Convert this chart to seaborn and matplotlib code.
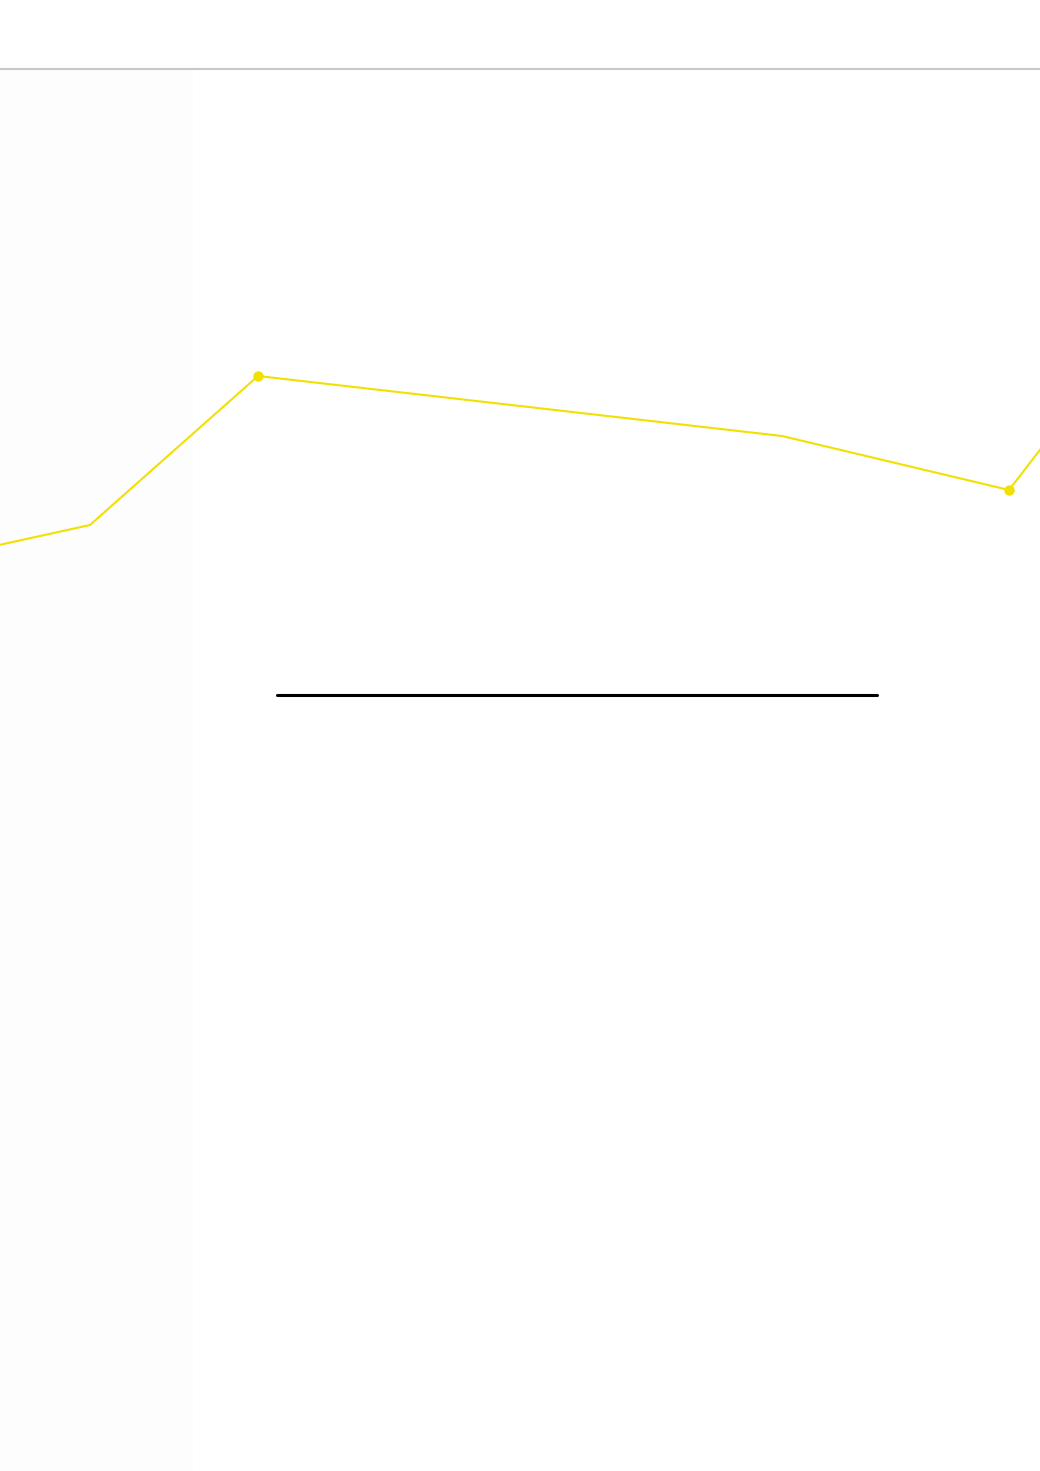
import pandas as pd
import matplotlib.pyplot as plt
import seaborn as sns
from matplotlib.lines import Line2D

# series values (x in days, y in index units), partly outside the visible window
days = [-6, 9, 25.8, 78.2, 100.9, 107]
values = [91.3, 94.6, 109.5, 103.5, 98.1, 106.0]
marked = [2, 4]

df = pd.DataFrame({'day': days, 'value': values})

sns.set_theme(style='white')
plt.rcParams['font.family'] = ['DejaVu Sans']

fig = plt.figure(figsize=(10.4, 14.71), dpi=100)
fig.patch.set_facecolor('white')

ax = fig.add_axes([0, 0, 1, 1])
ax.patch.set_alpha(0)

# faint side panel on the left, kept behind the line
ax.axvspan(0, 19.3, ymin=0, ymax=1 - 70 / 1471, facecolor='#fdfdfd', edgecolor='none', zorder=0)

sns.lineplot(x='day', y='value', data=df, ax=ax, color='#f2e000', linewidth=1.5,
             marker='o', markersize=7.5, markeredgewidth=0, markevery=marked,
             sort=False, estimator=None, zorder=3)
ax.set_xlim(0, 104)
ax.set_ylim(0, 147.1)
ax.set_axis_off()

# header rule and underline
fig.lines.append(Line2D([0, 1], [1 - 69 / 1471] * 2, transform=fig.transFigure,
                        color='#c8c8c8', linewidth=1.5))
fig.lines.append(Line2D([277 / 1040, 877 / 1040], [1 - 695 / 1471] * 2, transform=fig.transFigure,
                        color='black', linewidth=2.2))

fig.savefig('out.png', dpi=100, facecolor='white')
